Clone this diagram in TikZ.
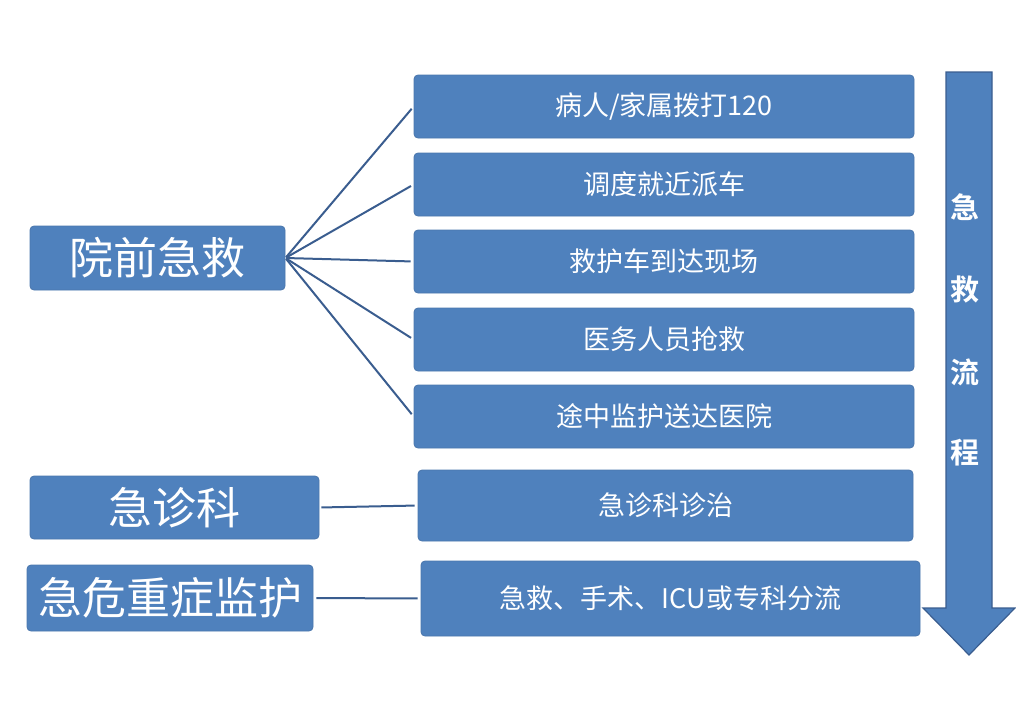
\documentclass[tikz,border=0pt]{standalone}
\usepackage{fontspec}
\newfontfamily\cjk{Noto Sans CJK SC}
\newfontfamily\cjkb{Noto Sans CJK SC Bold}
\definecolor{boxblue}{HTML}{4F81BD}
\definecolor{boxedge}{HTML}{4A76AC}
\definecolor{linkblue}{HTML}{3A5D8F}
\begin{document}
\begin{tikzpicture}[x=1pt,y=-1pt,
  bluebox/.style={draw=boxedge,line width=0.8pt,fill=boxblue,rounded corners=4pt,inner sep=0pt,text=white},
  bigbox/.style={bluebox,font=\cjk\fontsize{44}{48}\selectfont},
  stepbox/.style={bluebox,font=\cjk\fontsize{27}{30}\selectfont},
  link/.style={draw=linkblue,line width=2pt,shorten >=3pt,shorten <=1pt},
  arrowtext/.style={text=white,font=\cjkb\fontsize{29}{31}\selectfont,inner sep=0pt}]
\useasboundingbox (0,0) rectangle (1016,720);
% left boxes
\node[bigbox,minimum width=255pt,minimum height=64pt] (pre) at (157.5,258) {院前急救};
\node[bigbox,minimum width=289pt,minimum height=63pt] (er) at (174.5,507.5) {急诊科};
\node[bigbox,minimum width=286pt,minimum height=66pt] (icu) at (170,598) {急危重症监护};
% right boxes
\node[stepbox,minimum width=500pt,minimum height=63pt] (s1) at (664,106.5) {病人/家属拨打120};
\node[stepbox,minimum width=500pt,minimum height=63pt] (s2) at (664,184.5) {调度就近派车};
\node[stepbox,minimum width=500pt,minimum height=63pt] (s3) at (664,261.5) {救护车到达现场};
\node[stepbox,minimum width=500pt,minimum height=63pt] (s4) at (664,339.5) {医务人员抢救};
\node[stepbox,minimum width=500pt,minimum height=63pt] (s5) at (664,416.5) {途中监护送达医院};
\node[stepbox,minimum width=495pt,minimum height=71pt] (s6) at (665.5,505.5) {急诊科诊治};
\node[stepbox,minimum width=499pt,minimum height=75pt] (s7) at (670.5,598.5) {急救、手术、ICU或专科分流};
% connectors
\foreach \s in {s1,s2,s3,s4,s5}{
  \draw[link] (pre.east) -- (\s.west);
}
\draw[link,shorten <=2pt] (er.east) -- (s6.west);
\draw[link,shorten <=3pt] (icu.east) -- (s7.west);
% big arrow
\draw[draw=linkblue,line width=1.2pt,fill=boxblue,line join=miter]
  (946,72) -- (992,72) -- (992,608) -- (1015,608) -- (969,655) -- (923,608) -- (946,608) -- cycle;
\node[arrowtext] (a1) at (965,207) {急};
\node[arrowtext] (a2) at (965,289) {救};
\node[arrowtext] (a3) at (965,372) {流};
\node[arrowtext] (a4) at (965,453) {程};
\end{tikzpicture}
\end{document}
